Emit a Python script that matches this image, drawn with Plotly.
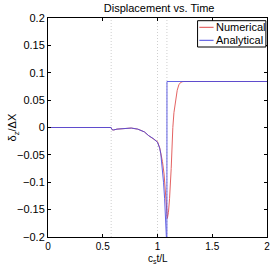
import plotly.graph_objects as go

# ---- data ----
t_num = [0.0, 0.576, 0.585, 0.60, 0.63, 0.70, 0.76, 0.82, 0.88, 0.92, 0.96, 1.0, 1.02, 1.03,
         1.045, 1.06, 1.074, 1.083, 1.09, 1.10, 1.11, 1.125, 1.134, 1.14, 1.15, 1.165, 1.18,
         1.195, 1.21, 1.225, 1.24, 2.0]
y_num = [0.0, 0.0, -0.004, -0.0045, -0.003, -0.002, -0.001, -0.003, -0.008, -0.015, -0.02,
         -0.026, -0.037, -0.046, -0.062, -0.085, -0.13, -0.158, -0.166, -0.155, -0.13, -0.075,
         -0.021, 0.0, 0.027, 0.052, 0.068, 0.078, 0.082, 0.0835, 0.084, 0.084]

t_ana = [0.0, 0.576, 0.585, 0.60, 0.63, 0.70, 0.76, 0.82, 0.88, 0.92, 0.96, 1.0, 1.02, 1.03,
         1.04, 1.055, 1.065, 1.075, 1.081, 1.0855, 1.0865, 2.0]
y_ana = [0.0, 0.0, -0.004, -0.0045, -0.003, -0.002, -0.001, -0.003, -0.008, -0.015, -0.02,
         -0.027, -0.038, -0.048, -0.065, -0.1, -0.13, -0.17, -0.2, -0.26, 0.084, 0.084]

grid_x = [0.577, 1.0, 1.086]

x_ticks = [0, 0.5, 1, 1.5, 2]
x_tick_text = ["0", "0.5", "1", "1.5", "2"]
y_ticks = [-0.2, -0.15, -0.1, -0.05, 0, 0.05, 0.1, 0.15, 0.2]
y_tick_text = ["\u22120.2", "\u22120.15", "\u22120.1", "\u22120.05", "0", "0.05", "0.1", "0.15", "0.2"]

series_names = ["Numerical", "Analytical"]
series_colors = ["#e04848", "#4848e0"]

FONT = "Liberation Sans, Arial, sans-serif"
W, H = 272, 266
ML, MR, MT, MB = 48, 5, 18, 29
PH = H - MT - MB


def py(pix):
    """pixel row -> paper y"""
    return (H - MB - pix) / PH


fig = go.Figure()
fig.add_trace(go.Scatter(x=t_num, y=y_num, mode="lines", name=series_names[0],
                         line=dict(color=series_colors[0], width=1), opacity=0.85,
                         showlegend=False))
fig.add_trace(go.Scatter(x=t_ana, y=y_ana, mode="lines", name=series_names[1],
                         line=dict(color=series_colors[1], width=1), opacity=0.85,
                         showlegend=False))

for gx in grid_x:
    fig.add_shape(type="line", xref="x", yref="paper", x0=gx, x1=gx, y0=0, y1=1,
                  line=dict(color="#cfcfcf", width=1, dash="1px,2px"), layer="below")

# manual legend
fig.add_shape(type="rect", xref="paper", yref="paper", x0=0.683, x1=0.995, y0=py(47), y1=py(20.7),
              line=dict(color="black", width=1), fillcolor="white")
leg_y = [py(27.3), py(40.3)]
for name, col, ly in zip(series_names, series_colors, leg_y):
    fig.add_shape(type="line", xref="paper", yref="paper", x0=0.691, x1=0.756, y0=ly, y1=ly,
                  line=dict(color=col, width=1))
    fig.add_annotation(xref="paper", yref="paper", x=0.760, y=ly, text=name, showarrow=False,
                       xanchor="left", yanchor="middle", font=dict(family=FONT, size=11, color="black"))

# axis titles as annotations
fig.add_annotation(xref="paper", yref="paper", x=0.5, y=py(265.5), text="c<sub>s</sub>t/L",
                   showarrow=False, xanchor="center", yanchor="bottom", borderpad=0,
                   font=dict(family=FONT, size=10, color="black"))
fig.add_annotation(xref="paper", yref="paper", x=-0.16, y=0.5, text="\u03b4<sub>z</sub>/\u0394X",
                   showarrow=False, xanchor="center", yanchor="middle", textangle=-90,
                   font=dict(family=FONT, size=11, color="black"))

fig.update_layout(
    width=W, height=H,
    margin=dict(l=ML, r=MR, t=MT, b=MB),
    paper_bgcolor="white", plot_bgcolor="white",
    font=dict(family=FONT, size=11, color="black"),
    title=dict(text="Displacement vs. Time", x=0.585, xanchor="center", y=0.985, yanchor="top",
               font=dict(family=FONT, size=11, color="black")),
    showlegend=False,
)
fig.update_xaxes(range=[0, 2], tickvals=x_ticks, ticktext=x_tick_text, showgrid=False, zeroline=False,
                 showline=True, linecolor="black", linewidth=1, mirror="ticks",
                 ticks="inside", ticklen=3, tickcolor="black", automargin=False,
                 tickfont=dict(family=FONT, size=10))
fig.update_yaxes(range=[-0.2, 0.2], tickvals=y_ticks, ticktext=y_tick_text, showgrid=False, zeroline=False,
                 showline=True, linecolor="black", linewidth=1, mirror="ticks",
                 ticks="inside", ticklen=3, tickcolor="black", automargin=False,
                 tickfont=dict(family=FONT, size=11))

fig.write_html("out.html")
